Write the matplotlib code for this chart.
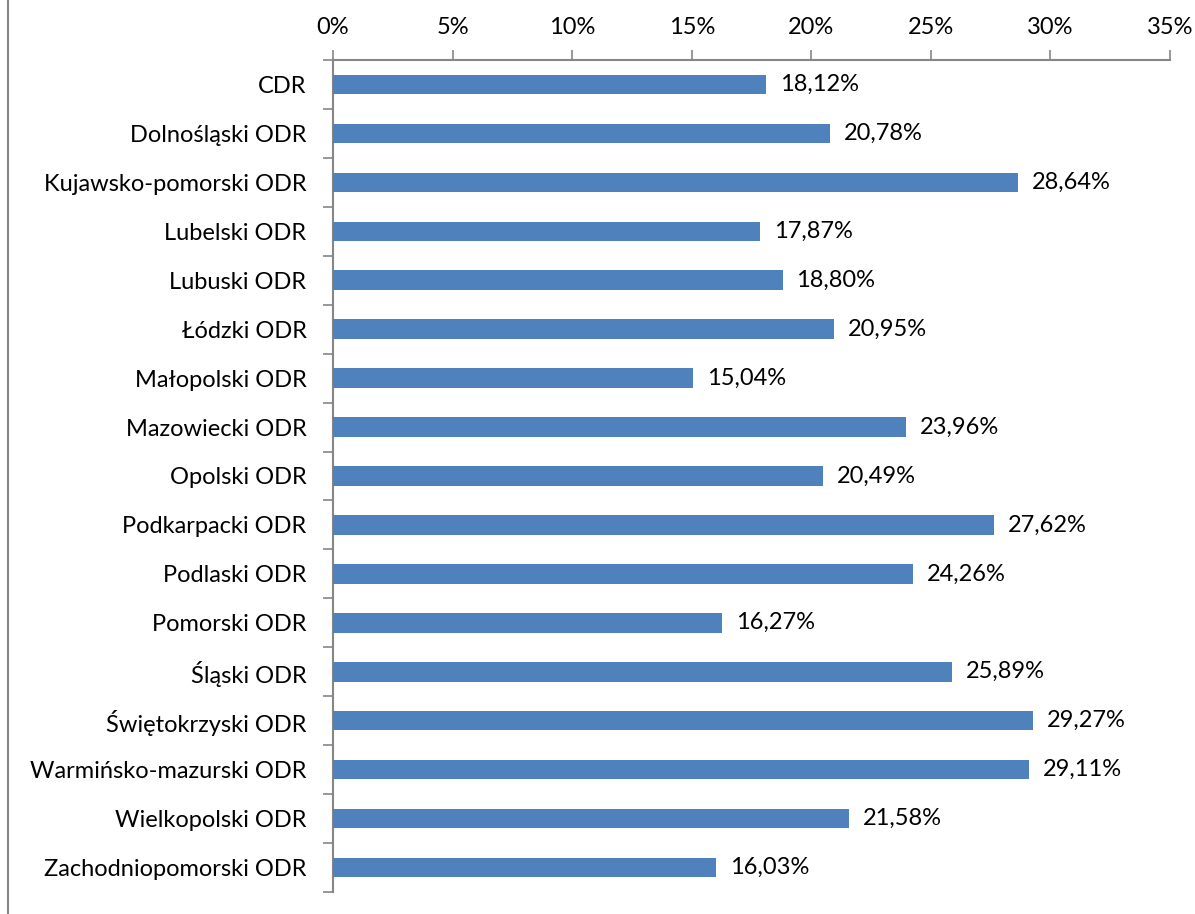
import matplotlib
matplotlib.use("Agg")
import matplotlib.pyplot as plt
from matplotlib.lines import Line2D
from matplotlib.ticker import FuncFormatter, MultipleLocator

categories = ["CDR", "Dolnośląski ODR", "Kujawsko-pomorski ODR", "Lubelski ODR",
              "Lubuski ODR", "Łódzki ODR", "Małopolski ODR", "Mazowiecki ODR",
              "Opolski ODR", "Podkarpacki ODR", "Podlaski ODR", "Pomorski ODR",
              "Śląski ODR", "Świętokrzyski ODR", "Warmińsko-mazurski ODR",
              "Wielkopolski ODR", "Zachodniopomorski ODR"]
values = [18.12, 20.78, 28.64, 17.87, 18.80, 20.95, 15.04, 23.96, 20.49,
          27.62, 24.26, 16.27, 25.89, 29.27, 29.11, 21.58, 16.03]

plt.rcParams['font.family'] = ['Lato', 'DejaVu Sans']
FS = 17
gray = "#868686"

fig = plt.figure(figsize=(11.95, 9.14), dpi=100)
ax = fig.add_axes([333/1195, 1 - 892/914, (1170 - 333)/1195, (892 - 60)/914])

n = len(categories)
ypos = list(range(n))
ax.barh(ypos, values, height=0.4, color="#4F81BD", zorder=3)
ax.set_ylim(n - 0.5, -0.5)
ax.set_xlim(0, 35)

for y, v in zip(ypos, values):
    ax.annotate(f"{v:.2f}%".replace(".", ","), (v, y), xytext=(10, 0),
                textcoords="offset points", va="center", ha="left", fontsize=FS, color="black")

ax.set_yticks(ypos)
ax.set_yticklabels(categories, fontsize=FS)
ax.tick_params(axis="y", length=0, pad=19)
ax.set_yticks([i - 0.5 for i in range(n + 1)], minor=True)
ax.tick_params(axis="y", which="minor", length=7, width=1.2, color=gray, direction="out")

ax.xaxis.set_major_locator(MultipleLocator(5))
ax.xaxis.set_major_formatter(FuncFormatter(lambda x, p: f"{x:.0f}%"))
ax.xaxis.tick_top()
ax.tick_params(axis="x", length=7, width=1.2, color=gray, direction="out", labelsize=FS, pad=9)

for s in ["right", "bottom"]:
    ax.spines[s].set_visible(False)
for s in ["left", "top"]:
    ax.spines[s].set_color(gray)
    ax.spines[s].set_linewidth(1.5)

fig.add_artist(Line2D([7.5/1195, 7.5/1195], [0, 1], transform=fig.transFigure,
                      color=gray, linewidth=1.5))

fig.savefig("out.png", dpi=100)
